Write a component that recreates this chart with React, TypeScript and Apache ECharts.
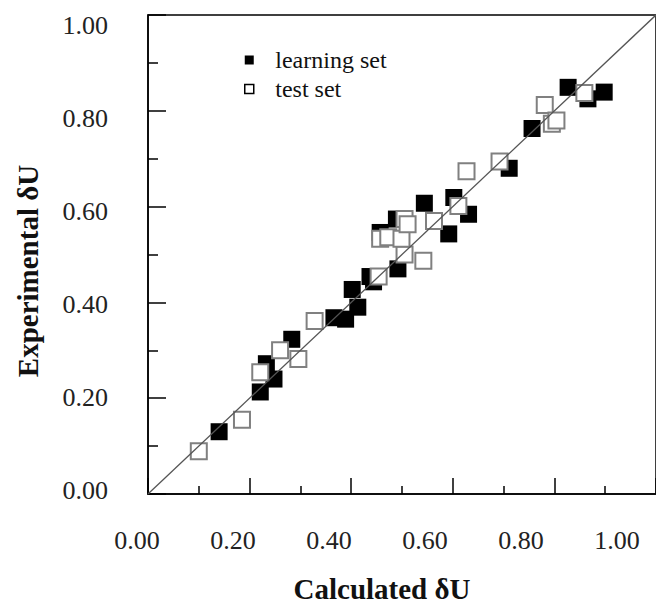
import React, { useEffect, useRef } from "react";
import * as echarts from "echarts";

const tickLabels = ["0.00", "0.20", "0.40", "0.60", "0.80", "1.00"];

const learningSet: [number, number][] = [
  [0.140, 0.130], [0.221, 0.213], [0.248, 0.240], [0.233, 0.272], [0.283, 0.323],
  [0.366, 0.368], [0.389, 0.365], [0.413, 0.390], [0.402, 0.427], [0.444, 0.443],
  [0.437, 0.454], [0.492, 0.470], [0.457, 0.546], [0.489, 0.574], [0.544, 0.607],
  [0.592, 0.543], [0.602, 0.619], [0.631, 0.584], [0.711, 0.680], [0.756, 0.763],
  [0.827, 0.849], [0.866, 0.825], [0.898, 0.839],
];

const testSet: [number, number][] = [
  [0.100, 0.089], [0.185, 0.155], [0.221, 0.254], [0.260, 0.300], [0.296, 0.282],
  [0.328, 0.361], [0.454, 0.454], [0.505, 0.500], [0.542, 0.487], [0.457, 0.533],
  [0.473, 0.536], [0.499, 0.533], [0.505, 0.574], [0.511, 0.563], [0.563, 0.570],
  [0.611, 0.601], [0.627, 0.674], [0.692, 0.694], [0.781, 0.812], [0.795, 0.773],
  [0.804, 0.780], [0.859, 0.837],
];

const identityLine: [number, number][] = [[0, 0], [1.05, 1.05]];

export default function App() {
  const ref = useRef<HTMLDivElement>(null);
  useEffect(() => {
    const chart = echarts.init(ref.current!, null, { renderer: "svg" });
    const font = "'Liberation Serif', 'Times New Roman', serif";
    const lbl = (v: number) => tickLabels[Math.round(v / 0.2)] ?? "";
    const hidden = {
      axisLine: { show: false }, axisTick: { show: false }, splitLine: { show: false },
    };
    chart.setOption({
      animation: false,
      backgroundColor: "#fff",
      grid: [
        { left: 148, top: 15, width: 518, height: 485, show: true, borderColor: "#000", borderWidth: 1.5 },
        { left: 137, top: 25, width: 480, height: 465 },
        { left: 148, top: 57, width: 518, height: 428 },
      ],
      legend: {
        left: 239,
        top: 43,
        orient: "vertical",
        itemWidth: 42,
        itemHeight: 9,
        itemGap: 5,
        icon: "path://M0,0H10V10H0Z",
        data: [
          { name: "learning set", itemStyle: { color: "#000", opacity: 1 } },
          { name: "test set", itemStyle: { color: "#fff", borderColor: "#000", borderWidth: 1.5, opacity: 1 } },
        ],
        textStyle: { fontFamily: font, fontSize: 24, color: "#111" },
      },
      xAxis: [
        {
          gridIndex: 0, type: "value", min: 0, max: 1, interval: 0.2,
          axisLine: { show: true, lineStyle: { color: "#000", width: 1.5 } },
          axisTick: { show: true, inside: true, length: 16, lineStyle: { color: "#000", width: 1.5 } },
          minorTick: { show: true, splitNumber: 2, length: 8, lineStyle: { color: "#000", width: 1.5 } },
          axisLabel: { show: false },
          splitLine: { show: false },
          name: "Calculated δU",
          nameLocation: "middle",
          nameGap: 80,
          nameTextStyle: { fontFamily: font, fontSize: 29, fontWeight: "bold", color: "#111", padding: [0, 40, 0, 0] },
        },
        {
          gridIndex: 1, type: "value", min: 0, max: 1, interval: 0.2, ...hidden,
          axisLabel: { show: true, margin: 37, formatter: lbl, fontFamily: font, fontSize: 26, color: "#222" },
        },
        {
          gridIndex: 2, type: "value", min: 0, max: 1, ...hidden, axisLabel: { show: false },
        },
      ],
      yAxis: [
        {
          gridIndex: 0, type: "value", min: 0, max: 1, interval: 0.2,
          axisLine: { show: true, lineStyle: { color: "#000", width: 1.5 } },
          axisTick: { show: true, inside: true, length: 18, lineStyle: { color: "#000", width: 1.5 } },
          minorTick: { show: true, splitNumber: 2, length: 10, lineStyle: { color: "#000", width: 1.5 } },
          axisLabel: { show: false },
          splitLine: { show: false },
        },
        {
          gridIndex: 1, type: "value", min: 0, max: 1, interval: 0.2, ...hidden,
          axisLabel: { show: true, margin: 29, formatter: lbl, fontFamily: font, fontSize: 26, color: "#222" },
        },
        {
          gridIndex: 2, type: "value", min: 0, max: 1, ...hidden, axisLabel: { show: false },
          name: "Experimental δU",
          nameLocation: "middle",
          nameGap: 106,
          nameTextStyle: { fontFamily: font, fontSize: 29, fontWeight: "bold", color: "#111" },
        },
      ],
      series: [
        {
          name: "learning set", type: "scatter", xAxisIndex: 0, yAxisIndex: 0,
          symbol: "rect", symbolSize: 17, data: learningSet,
          itemStyle: { color: "#000", opacity: 1 }, z: 2,
        },
        {
          name: "test set", type: "scatter", xAxisIndex: 0, yAxisIndex: 0,
          symbol: "rect", symbolSize: 16, data: testSet,
          itemStyle: { color: "#fff", borderColor: "#808080", borderWidth: 2, opacity: 1 }, z: 3,
        },
        {
          name: "identity", type: "line", xAxisIndex: 0, yAxisIndex: 0,
          data: identityLine, showSymbol: false, symbol: "none",
          lineStyle: { color: "#555", width: 1.3 }, z: 4, silent: true,
        },
      ],
    });
    return () => chart.dispose();
  }, []);
  return <div ref={ref} style={{ position: "absolute", left: 0, top: 0, width: 656, height: 608 }} />;
}
